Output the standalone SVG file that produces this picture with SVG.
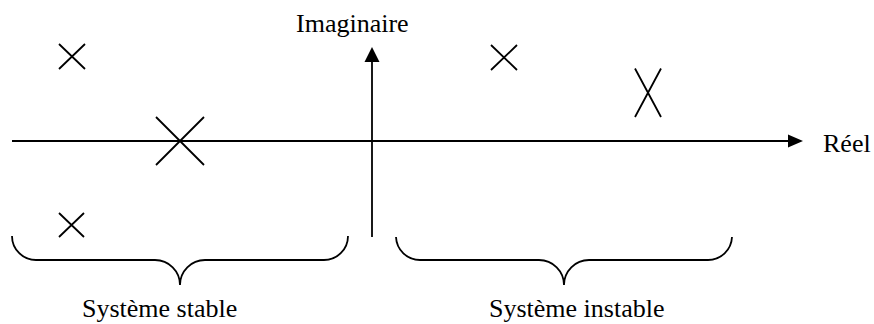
<svg xmlns="http://www.w3.org/2000/svg" width="874" height="324" viewBox="0 0 874 324">
  <style>
    .ln { stroke: #000; stroke-width: 1.8; fill: none; }
    .tx { font-family: "Liberation Serif", "Times New Roman", serif; font-size: 26px; fill: #000; }
  </style>
  <defs>
    <marker id="arr" viewBox="0 0 10 10" refX="10" refY="5" markerWidth="8.5" markerHeight="8.5" markerUnits="userSpaceOnUse" orient="auto">
      <path d="M0,0 L10,5 L0,10 Z" fill="#000"/>
    </marker>
  </defs>
  <rect width="874" height="324" fill="#fff"/>
  <g id="connectors">
    <line id="axis-real" class="ln" x1="12" y1="141" x2="788" y2="141"/>
    <path d="M788,134.5 L803,141 L788,147.5 Z" fill="#000"/>
    <line id="axis-imag" class="ln" x1="372" y1="237" x2="372" y2="62"/>
    <path d="M364.5,62 L372,47 L379.5,62 Z" fill="#000"/>
  </g>
  <g id="label-imaginaire"><text class="tx" x="296" y="32">Imaginaire</text></g>
  <g id="label-reel"><text class="tx" x="823" y="152">Réel</text></g>
  <g id="pole-1"><path class="ln" d="M59,44 L85,69 M85,44 L59,69"/></g>
  <g id="pole-2"><path class="ln" d="M156,117 L204,165 M204,117 L156,165"/></g>
  <g id="pole-3"><path class="ln" d="M59,213 L84,237 M84,213 L59,237"/></g>
  <g id="pole-4"><path class="ln" d="M491,45 L517,70 M517,45 L491,70"/></g>
  <g id="pole-5"><path class="ln" d="M635,68.5 L661,117 M661,68.5 L635,117"/></g>
  <g id="brace-stable">
    <path class="ln" d="M12,236 A24,24 0 0 0 36,260 H155 A25,25 0 0 1 180,285 A25,25 0 0 1 205,260 H324 A24,24 0 0 0 348,236"/>
    <text class="tx" x="82" y="317">Système stable</text>
  </g>
  <g id="brace-instable">
    <path class="ln" d="M396,237 A24,24 0 0 0 420,260 H539 A25,25 0 0 1 564,285 A25,25 0 0 1 589,260 H708 A24,24 0 0 0 732,237"/>
    <text class="tx" x="489" y="317">Système instable</text>
  </g>
</svg>
